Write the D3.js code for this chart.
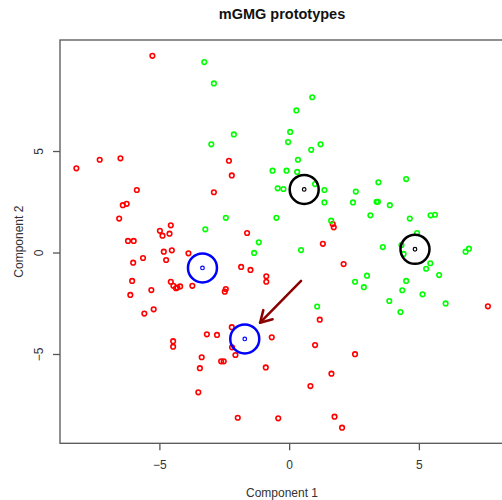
<!DOCTYPE html>
<html><head><meta charset="utf-8">
<script src="https://cdn.jsdelivr.net/npm/d3@7"></script>
<style>body{margin:0;background:#fff}svg{display:block}text{font-family:"Liberation Sans",Arial,sans-serif}</style>
</head><body><svg id="c" width="502" height="500"></svg>
<script>
const title = "mGMG prototypes";
const xLabel = "Component 1", yLabel = "Component 2";
const xTicks = [-5, 0, 5], yTicks = [-5, 0, 5];
const redX = [-5.27,-7.30,-6.50,-8.20,-5.87,-6.41,-6.26,-6.55,-4.56,-4.98,-4.88,-4.61,-6.21,-5.99,-4.83,-4.52,-3.88,-5.63,-4.74,-6.01,-6.05,-4.56,-4.46,-4.36,-4.31,-4.20,-3.73,-5.31,-6.12,-5.22,-5.58,-3.17,-4.47,-4.47,-3.37,-3.44,-3.50,-2.32,-2.21,-2.90,-1.62,1.68,1.72,1.30,2.10,-1.85,-1.49,-0.88,-0.88,-2.44,-2.48,1.18,-2.21,-2.78,-0.67,-2.20,-2.07,-2.62,-2.52,1.00,-0.90,1.63,0.82,-1.98,-0.42,1.75,2.04,2.54,7.66];
const redY = [9.69,4.57,4.64,4.15,3.08,2.33,2.40,1.67,1.34,1.07,0.83,0.93,0.57,0.57,0.04,0.11,-0.04,-0.27,-0.37,-0.50,-1.40,-1.44,-1.64,-1.76,-1.73,-1.67,-1.64,-1.85,-2.09,-2.80,-3.01,-4.03,-4.37,-4.64,-5.16,-5.70,-6.89,4.52,3.80,2.97,0.96,1.40,1.24,0.43,-0.57,-0.71,-0.86,-1.17,-1.44,-1.80,-1.93,-3.31,-3.68,-4.06,-4.18,-4.67,-5.05,-5.36,-5.36,-4.56,-5.66,-5.97,-6.58,-8.14,-8.17,-8.09,-8.63,-5.01,-2.65];
const greenX = [-3.27,-2.90,0.89,0.28,0.04,-2.13,-3.00,-0.04,1.21,0.85,0.34,-0.64,-0.10,0.31,-0.44,-0.22,1.00,1.36,1.36,-2.44,-0.49,-3.23,1.62,-1.17,-1.35,0.46,1.08,4.51,3.44,2.57,2.46,3.37,3.42,3.88,3.13,4.65,5.45,5.62,4.93,3.61,4.33,4.41,6.80,6.93,5.44,5.28,5.78,3.00,2.54,2.88,4.51,4.36,5.14,3.86,6.03,4.29];
const greenY = [9.38,8.33,7.65,7.00,5.94,5.82,5.33,5.44,5.33,5.06,4.57,4.03,4.03,3.97,3.16,3.13,3.37,3.08,2.47,1.71,1.71,1.14,1.57,0.50,-0.02,0.12,-2.66,3.62,3.46,3.00,2.47,2.50,2.50,2.33,1.83,1.67,1.83,1.86,0.96,0.27,0.37,-0.07,0.04,0.19,-0.53,-0.80,-1.11,-1.14,-1.44,-1.71,-1.40,-1.86,-2.06,-2.39,-2.51,-2.93];
const protoX = [-3.34,-1.71,0.58,4.85];
const protoY = [-0.76,-4.26,3.11,0.16];
const protoColor = ["#0000ff","#0000ff","#000000","#000000"];
const arrowFrom = [0.46,-1.40], arrowTo = [-1.12,-3.46];

const svg = d3.select("#c");
const L=60, R=504, T=40, B=443.3;
const x = d3.scaleLinear().domain([-8.83, 8.28]).range([L, R]);
const y = d3.scaleLinear().domain([-9.40, 10.47]).range([B, T]);

svg.append("text").attr("x",(L+R)/2).attr("y",19).attr("text-anchor","middle")
  .attr("font-size",14.5).attr("font-weight","bold").attr("fill","#111").text(title);

const pts = svg.append("g");
function dots(xs, ys, col){
  pts.selectAll(null).data(xs.map((v,i)=>[v,ys[i]])).enter().append("circle")
    .attr("cx",d=>x(d[0])).attr("cy",d=>y(d[1])).attr("r",2.3)
    .attr("fill","none").attr("stroke",col).attr("stroke-width",1.6);
}
dots(redX, redY, "#ff0000");
dots(greenX, greenY, "#00ff00");

const pr = protoX.map((v,i)=>({x:v,y:protoY[i],c:protoColor[i]}));
svg.append("g").selectAll("circle").data(pr).enter().append("circle")
  .attr("cx",d=>x(d.x)).attr("cy",d=>y(d.y)).attr("r",14.5)
  .attr("fill","none").attr("stroke",d=>d.c).attr("stroke-width",2.5);
svg.append("g").selectAll("circle").data(pr).enter().append("circle")
  .attr("cx",d=>x(d.x)).attr("cy",d=>y(d.y)).attr("r",1.8)
  .attr("fill","none").attr("stroke",d=>d.c).attr("stroke-width",1.2);

// arrow
const x0=x(arrowFrom[0]), y0=y(arrowFrom[1]), x1=x(arrowTo[0]), y1=y(arrowTo[1]);
const ang = Math.atan2(y1-y0, x1-x0), hl=13, ha=Math.PI/6;
const ag = svg.append("g").attr("stroke","#8b0000").attr("stroke-width",2.5).attr("fill","none").attr("stroke-linecap","round");
ag.append("line").attr("x1",x0).attr("y1",y0).attr("x2",x1).attr("y2",y1);
ag.append("path").attr("d",
  `M${x1-hl*Math.cos(ang-ha)},${y1-hl*Math.sin(ang-ha)}L${x1},${y1}L${x1-hl*Math.cos(ang+ha)},${y1-hl*Math.sin(ang+ha)}`)
  .attr("stroke-linejoin","round");

// frame
svg.append("rect").attr("x",L).attr("y",T).attr("width",R-L).attr("height",B-T)
  .attr("fill","none").attr("stroke","#555").attr("stroke-width",1.3);

const xa = svg.append("g").attr("transform",`translate(0,${B})`)
  .call(d3.axisBottom(x).tickValues(xTicks).tickSize(7).tickPadding(10).tickFormat(d3.format("d")));
xa.select(".domain").remove();
xa.selectAll("line").attr("stroke","#555").attr("stroke-width",1.3);
xa.selectAll("text").attr("font-size",12).attr("fill","#333").attr("font-family","Liberation Sans, Arial, sans-serif");

const ya = svg.append("g").attr("transform",`translate(${L},0)`)
  .call(d3.axisLeft(y).tickValues(yTicks).tickSize(7).tickPadding(0).tickFormat(d3.format("d")));
ya.select(".domain").remove();
ya.selectAll("line").attr("stroke","#555").attr("stroke-width",1.3);
ya.selectAll("text").attr("font-size",12).attr("fill","#333").attr("font-family","Liberation Sans, Arial, sans-serif")
  .attr("text-anchor","middle").attr("x",0).attr("dy",0)
  .attr("transform","translate(-21,0) rotate(-90)").attr("y",0).attr("dominant-baseline","central");

svg.append("text").attr("x",(L+R)/2).attr("y",497).attr("text-anchor","middle")
  .attr("font-size",12).attr("fill","#333").text(xLabel);
svg.append("text").attr("transform",`translate(23,${(T+B)/2}) rotate(-90)`).attr("text-anchor","middle")
  .attr("font-size",12).attr("fill","#333").text(yLabel);
</script></body></html>
